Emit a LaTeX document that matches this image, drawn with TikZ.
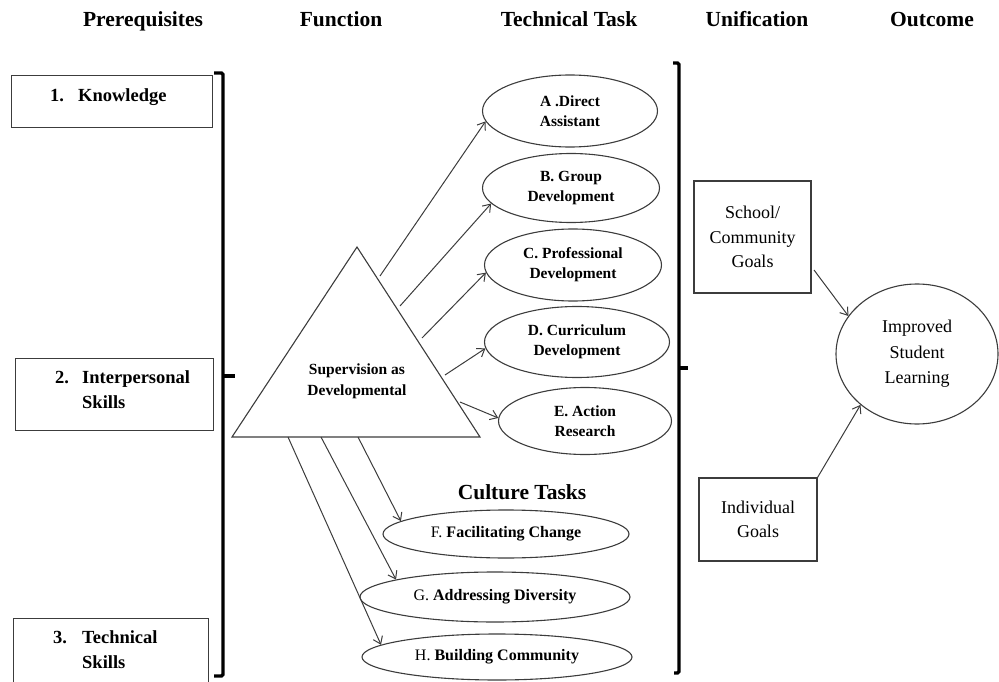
\documentclass[tikz,border=0pt]{standalone}
\usepackage{fontspec}
\setmainfont{Liberation Serif}
\usetikzlibrary{shapes.geometric,arrows.meta}
\definecolor{linegray}{RGB}{60,60,60}
\begin{document}
\begin{tikzpicture}[x=1pt,y=-1pt,
  hdr/.style={font=\fontsize{21.5}{24}\selectfont\bfseries, anchor=base, inner sep=0pt},
  box/.style={draw=linegray, line width=1.1pt, anchor=north west, inner sep=0pt},
  pretext/.style={font=\fontsize{18.5}{25}\selectfont\bfseries, anchor=base west, inner sep=0pt},
  task/.style={ellipse, draw=linegray, line width=1.1pt, inner sep=0pt, align=center, font=\fontsize{15.5}{20}\selectfont\bfseries},
  ctask/.style={task, font=\fontsize{16}{20}\selectfont\bfseries},
  arr/.style={draw=linegray, line width=1pt, -{Straight Barb[length=7pt,width=10pt]}},
  brk/.style={line width=3.2pt, rounded corners=1.5pt},
  goalbox/.style={draw=linegray, line width=1.1pt, inner sep=0pt, align=center, font=\fontsize{18}{24.5}\selectfont}
]
\useasboundingbox (0,0) rectangle (999,682);

% headers
\node[hdr] (h1) at (143,27) {Prerequisites};
\node[hdr] (h2) at (341,27) {Function};
\node[hdr] (h3) at (569,27) {Technical Task};
\node[hdr] (h4) at (757,27) {Unification};
\node[hdr] (h5) at (932,27) {Outcome};

% prerequisite boxes
\node[box, minimum width=201pt, minimum height=52pt] (kbox) at (11,75) {};
\node[pretext] (k1) at (50,102) {1.};
\node[pretext] (k2) at (78,102) {Knowledge};

\node[box, minimum width=198pt, minimum height=72pt] (ibox) at (15,358) {};
\node[pretext] (i1) at (55,383) {2.};
\node[pretext] (i2) at (82,383) {Interpersonal};
\node[pretext] (i3) at (82,408) {Skills};

\node[box, minimum width=195pt, minimum height=64pt] (tbox) at (13,618) {};
\node[pretext] (t1) at (53,643) {3.};
\node[pretext] (t2) at (82,643) {Technical};
\node[pretext] (t3) at (82,668) {Skills};

% brackets
\draw[brk] (214,73) -- (223,73) -- (223,676) -- (214,676);
\draw[line width=3.2pt] (223,376) -- (235,376);
\draw[brk] (673,63) -- (679,63) -- (679,673) -- (674,673);
\draw[line width=3.2pt] (679,368) -- (688,368);

% triangle
\draw[draw=linegray, line width=1.1pt, line join=miter] (357,247) coordinate (apex) -- (480,437) coordinate (br) -- (232,437) coordinate (bl) -- cycle;
\node[font=\fontsize{15.5}{21}\selectfont\bfseries, align=center, inner sep=0pt] (sup) at (357,381) {Supervision as\\Developmental};

% technical tasks
\node[task, minimum width=175pt, minimum height=72pt] (A) at (570,111) {A .Direct\\Assistant};
\node[task, minimum width=177pt, minimum height=69pt] (B) at (571,188) {B. Group\\Development};
\node[task, minimum width=177pt, minimum height=72pt] (C) at (573,265) {C. Professional\\Development};
\node[task, minimum width=185pt, minimum height=71pt] (D) at (577,342) {D. Curriculum\\Development};
\node[task, minimum width=173pt, minimum height=67pt] (E) at (585,421) {E. Action\\Research};

% culture tasks
\node[font=\fontsize{21.5}{24}\selectfont\bfseries, inner sep=0pt] (ct) at (522,492) {Culture Tasks};
\node[ctask, minimum width=246pt, minimum height=48pt] (F) at (506,534) {{\mdseries F.} Facilitating Change};
\node[ctask, minimum width=270pt, minimum height=50pt] (G) at (495,597) {{\mdseries G.} Addressing Diversity};
\node[ctask, minimum width=270pt, minimum height=46pt] (H) at (497,657) {{\mdseries H.} Building Community};

% arrows from triangle
\coordinate (tA) at (380,276);
\coordinate (tB) at (400,306);
\coordinate (tC) at (422,338);
\coordinate (tD) at (445,375);
\coordinate (tE) at (460,402);
\coordinate (tF) at (358,437);
\coordinate (tG) at (321,437);
\coordinate (tH) at (288,437);
\draw[arr] (tA) -- (A.187);
\draw[arr] (tB) -- (B.191);
\draw[arr] (tC) -- (C.185);
\draw[arr] (tD) -- (D.184);
\draw[arr] (tE) -- (E.178);
\draw[arr] (tF) -- (F.173);
\draw[arr] (tG) -- (G.170);
\draw[arr] (tH) -- (H.174);

% unification
\node[goalbox, minimum width=117pt, minimum height=112pt] (sch) at (752.5,237) {School/\\Community\\Goals};
\node[goalbox, minimum width=118pt, minimum height=83pt] (ind) at (758,519.5) {Individual\\Goals};

% outcome
\node[ellipse, draw=linegray, line width=1.1pt, inner sep=0pt, align=center, font=\fontsize{18}{25.5}\selectfont, minimum width=162pt, minimum height=140pt] (isl) at (917,354) {Improved\\Student\\Learning};

\coordinate (s1) at (814,270);
\draw[arr] (s1) -- (isl.151);
\draw[arr] (ind.north east) -- (isl.222);
\end{tikzpicture}
\end{document}
